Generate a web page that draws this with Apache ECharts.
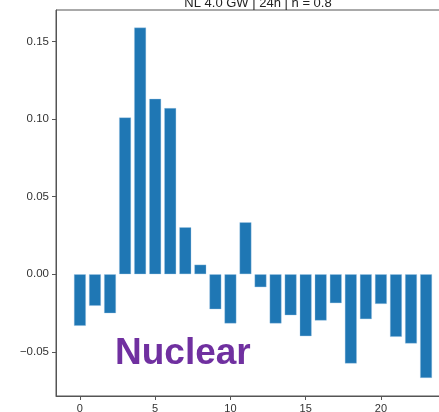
<!DOCTYPE html>
<html>
<head>
<meta charset="utf-8">
<script src="https://cdn.jsdelivr.net/npm/echarts@6/dist/echarts.min.js"></script>
<style>
  html, body { margin: 0; padding: 0; background: #fff; }
  #chart { width: 439px; height: 412px; }
</style>
</head>
<body>
<div id="chart"></div>
<script>
// Hourly nuclear deviation, one bar per hour of the day
const hours = [0, 1, 2, 3, 4, 5, 6, 7, 8, 9, 10, 11, 12, 13, 14, 15, 16, 17, 18, 19, 20, 21, 22, 23];
const values = [-0.0333, -0.0204, -0.0252, 0.1011, 0.1590, 0.1131, 0.1071, 0.0303,
                0.0062, -0.0226, -0.0318, 0.0335, -0.0084, -0.0318, -0.0265, -0.0400,
                -0.0299, -0.0187, -0.0576, -0.0290, -0.0192, -0.0404, -0.0447, -0.0669];
const xTicks = [0, 5, 10, 15, 20];
const yTicks = [-0.05, 0, 0.05, 0.10, 0.15];
const titleText = 'NL 4.0 GW | 24h | h = 0.8';
const labelText = 'Nuclear';

const chart = echarts.init(document.getElementById('chart'));
const axisColor = '#555';
const font = 'Liberation Sans, Arial, sans-serif';

chart.setOption({
  animation: false,
  title: {
    text: titleText,
    left: 253,
    textAlign: 'center',
    top: -8,
    textStyle: { fontFamily: font, fontSize: 13, fontWeight: 'normal', color: '#222' }
  },
  grid: {
    left: 56, top: 10, width: 394, bottom: 16,
    outerBoundsMode: 'none',
    containLabel: false,
    show: true, borderColor: axisColor, borderWidth: 1, backgroundColor: 'transparent'
  },
  xAxis: {
    type: 'value',
    min: -1.59, max: 24.59,
    splitLine: { show: false },
    axisLine: { show: true, onZero: false, lineStyle: { color: axisColor } },
    axisTick: { show: true, customValues: xTicks, length: 4, lineStyle: { color: axisColor } },
    axisLabel: {
      customValues: xTicks, margin: 7,
      fontFamily: font, fontSize: 11, color: '#333'
    }
  },
  yAxis: {
    type: 'value',
    min: -0.0785, max: 0.1703,
    splitLine: { show: false },
    axisLine: { show: true, onZero: false, lineStyle: { color: axisColor } },
    axisTick: { show: true, customValues: yTicks, length: 4, lineStyle: { color: axisColor } },
    axisLabel: {
      customValues: yTicks, margin: 7,
      fontFamily: font, fontSize: 11.5, color: '#333',
      formatter: v => v.toFixed(2).replace('-', '\u2212')
    }
  },
  series: [{
    type: 'bar',
    data: hours.map((h, i) => [h, values[i]]),
    barWidth: 12,
    itemStyle: { color: '#1f77b4', borderColor: 'rgba(160,200,230,0.6)', borderWidth: 0.6 }
  }],
  graphic: [{
    type: 'text',
    left: 115, top: 335,
    style: {
      text: labelText,
      fontFamily: font, fontSize: 37, fontWeight: 'bold',
      fill: '#7030a0'
    }
  }]
});
</script>
</body>
</html>
